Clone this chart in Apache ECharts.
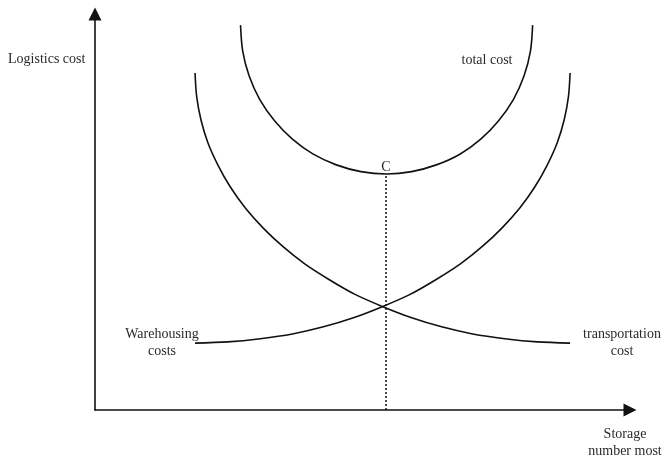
<!DOCTYPE html>
<html>
<head>
<meta charset="utf-8">
<script src="https://cdn.jsdelivr.net/npm/echarts@6/dist/echarts.min.js"></script>
<style>
  html, body { margin: 0; padding: 0; background: #fff; }
  #chart { width: 662px; height: 461px; }
</style>
</head>
<body>
<div id="chart"></div>
<script>
// values (x: storage quantity, y: cost, both 0..100)
const transportX = [18.7, 19.0, 19.8, 21.1, 23.0, 25.3, 28.1, 31.4, 35.1, 39.2, 43.8, 48.6, 53.8, 59.2, 64.8, 70.6, 76.6, 82.7, 88.8]
const transportY = [85.1, 79.2, 73.3, 67.5, 61.8, 56.3, 51.0, 46.0, 41.3, 36.9, 32.9, 29.2, 26.1, 23.3, 21.0, 19.2, 18.0, 17.2, 16.9]

const warehouseX = [18.7, 24.8, 30.9, 36.9, 42.7, 48.3, 53.7, 58.9, 63.7, 68.3, 72.4, 76.1, 79.4, 82.2, 84.5, 86.4, 87.7, 88.5, 88.8]
const warehouseY = [16.9, 17.2, 18.0, 19.2, 21.0, 23.3, 26.1, 29.2, 32.9, 36.9, 41.3, 46.0, 51.0, 56.3, 61.8, 67.5, 73.3, 79.2, 85.1]

const totalX = [27.2, 27.6, 28.8, 30.8, 33.6, 36.9, 40.8, 45.1, 49.7, 54.5, 59.2, 63.8, 68.2, 72.1, 75.4, 78.2, 80.2, 81.4, 81.8]
const totalY = [97.2, 90.7, 84.4, 78.4, 73.0, 68.4, 64.6, 61.9, 60.2, 59.6, 60.2, 61.9, 64.6, 68.4, 73.0, 78.4, 84.4, 90.7, 97.2]

// optimum point C
const optimumX = 54.4
const optimumCost = 59.6
const optimumName = 'C'

const yAxisName = 'Logistics cost'
const xAxisName = 'Storage\nnumber most'
const totalName = 'total cost'
const warehouseName = 'Warehousing\ncosts'
const transportName = 'transportation\ncost'

const zip = (xs, ys) => xs.map((x, i) => [x, ys[i]])

const font = 'Liberation Serif'
const ink = '#111'
const textInk = '#2a2a2a'

const curve = {
  type: 'line',
  smooth: 0.3,
  showSymbol: false,
  silent: true,
  lineStyle: { color: ink, width: 1.6 }
}

const axisCommon = {
  type: 'value',
  min: 0,
  max: 100,
  axisLine: {
    show: true,
    symbol: ['none', 'triangle'],
    symbolSize: [13, 13],
    lineStyle: { color: ink, width: 1.6 }
  },
  axisTick: { show: false },
  axisLabel: { show: false },
  splitLine: { show: false }
}

const chart = echarts.init(document.getElementById('chart'))

const labelStyle = (text, x, y, align) => ({
  type: 'text',
  x: x,
  y: y,
  style: {
    text: text,
    fill: textInk,
    font: '14px "' + font + '"',
    align: align || 'center',
    verticalAlign: 'middle',
    lineHeight: 17
  }
})

chart.setOption({
  animation: false,
  backgroundColor: '#fff',
  grid: { left: 95, right: 32, top: 14, bottom: 51 },
  xAxis: axisCommon,
  yAxis: axisCommon,
  series: [
    Object.assign({ name: totalName, data: zip(totalX, totalY) }, curve),
    Object.assign({ name: warehouseName, data: zip(warehouseX, warehouseY) }, curve),
    Object.assign({ name: transportName, data: zip(transportX, transportY) }, curve),
    {
      type: 'line',
      silent: true,
      showSymbol: true,
      symbol: 'circle',
      symbolSize: 0,
      data: [
        [optimumX, 0],
        {
          value: [optimumX, optimumCost],
          label: {
            show: true,
            formatter: optimumName,
            position: 'top',
            distance: 0,
            color: textInk,
            fontFamily: font,
            fontSize: 14
          }
        }
      ],
      lineStyle: { color: ink, width: 1.5, type: [2, 2] }
    }
  ],
  graphic: [
    labelStyle(yAxisName, 8, 59, 'left'),
    labelStyle(totalName, 487, 60),
    labelStyle(warehouseName, 162, 343),
    labelStyle(transportName, 622, 343),
    labelStyle(xAxisName, 625, 443)
  ]
})
</script>
</body>
</html>
